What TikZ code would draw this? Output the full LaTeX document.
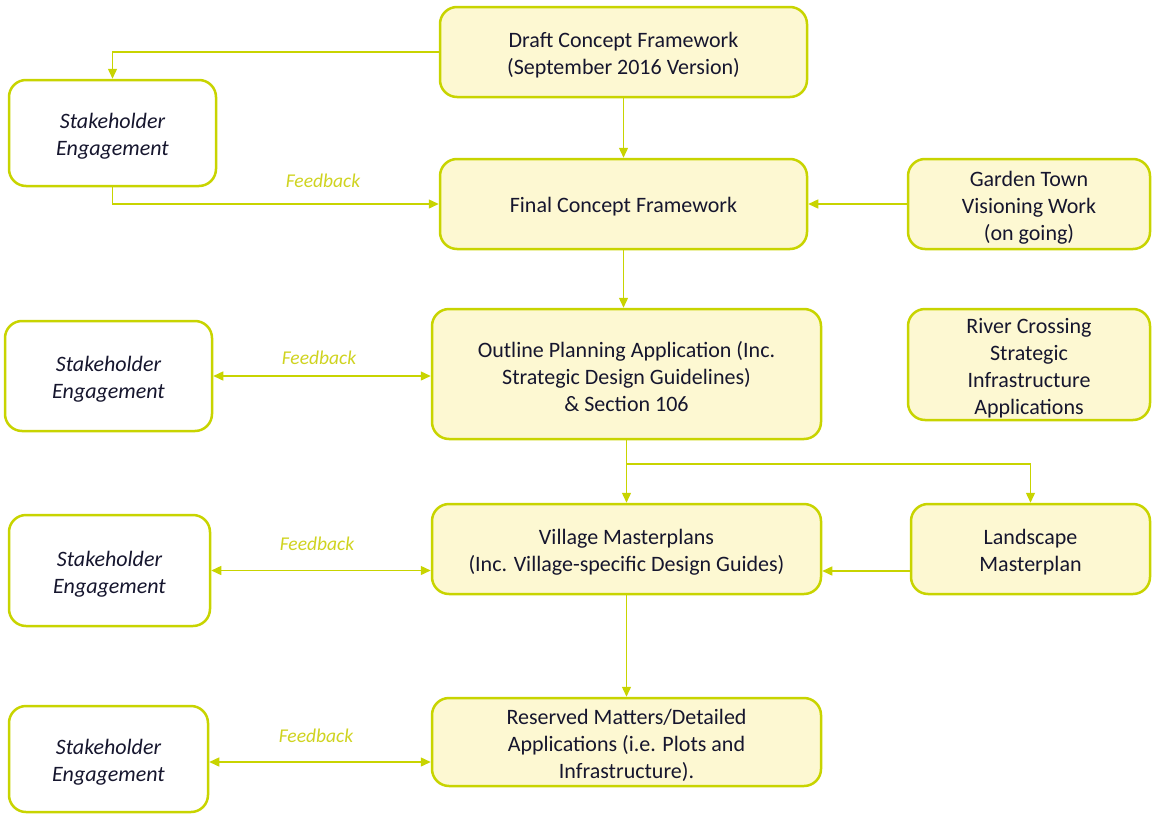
\documentclass[tikz,border=0pt]{standalone}
\usepackage{fontspec}
\setmainfont{Carlito}
\usetikzlibrary{arrows.meta}
\definecolor{bord}{HTML}{C8D400}
\definecolor{boxfill}{HTML}{FDF8D2}
\definecolor{txt}{HTML}{16162E}
\definecolor{fb}{HTML}{CFD320}
\newcommand\fstrut{\rule{0pt}{22pt}}
\begin{document}
\begin{tikzpicture}[x=1pt,y=-1pt,
  base/.style={draw=bord,line width=2.5pt,rounded corners=17pt,inner sep=0pt,align=center,text=txt,font=\fontsize{22}{27}\selectfont},
  ybox/.style={base,fill=boxfill},
  sbox/.style={base,fill=white,font=\fontsize{22}{27}\selectfont\itshape},
  conn/.style={draw=bord,line width=1.4pt,-{Triangle[length=10pt,width=9pt]}},
  both/.style={conn,{Triangle[length=10pt,width=9pt]}-{Triangle[length=10pt,width=9pt]}},
  fbl/.style={text=fb,font=\fontsize{19.5}{22}\selectfont\itshape}]
\useasboundingbox (0,0) rectangle (1152,814);
% yellow boxes
\node[ybox,minimum width=367pt,minimum height=90pt] (draft) at (623.5,52) {\fstrut Draft Concept Framework\\(September 2016 Version)};
\node[ybox,minimum width=367pt,minimum height=90pt] (final) at (623.5,204) {\rule{0pt}{20pt}Final Concept Framework};
\node[ybox,minimum width=242pt,minimum height=90pt] (garden) at (1029,204) {\fstrut Garden Town\\Visioning Work\\(on going)};
\node[ybox,minimum width=389pt,minimum height=130pt] (outline) at (626.5,374) {\fstrut Outline Planning Application (Inc.\\Strategic Design Guidelines)\\\& Section 106};
\node[ybox,minimum width=242pt,minimum height=111pt] (river) at (1029,364.5) {\fstrut River Crossing\\Strategic\\Infrastructure\\Applications};
\node[ybox,minimum width=389pt,minimum height=90pt] (village) at (626.5,549) {\fstrut Village Masterplans\\(Inc. Village-specific Design Guides)};
\node[ybox,minimum width=239pt,minimum height=90pt] (land) at (1030.5,549) {\fstrut Landscape\\Masterplan};
\node[ybox,minimum width=389pt,minimum height=88pt] (res) at (626.5,742) {\fstrut Reserved Matters/Detailed\\Applications (i.e. Plots and\\Infrastructure).};
% stakeholder boxes
\node[sbox,minimum width=207pt,minimum height=106pt] (s1) at (112.5,133) {\fstrut Stakeholder\\Engagement};
\node[sbox,minimum width=207pt,minimum height=110pt] (s2) at (108.5,376) {\fstrut Stakeholder\\Engagement};
\node[sbox,minimum width=201pt,minimum height=111pt] (s3) at (109.5,570.5) {\fstrut Stakeholder\\Engagement};
\node[sbox,minimum width=199pt,minimum height=106pt] (s4) at (108.5,759) {\fstrut Stakeholder\\Engagement};
% connectors
\draw[conn] (draft.west) -| (s1.north);
\draw[conn] (s1.south) |- (final.west);
\draw[conn] (draft.south) -- (final.north);
\draw[conn] (garden.west) -- (final.east);
\draw[conn] (final.south) -- (final.south |- outline.north);
\draw[both] (s2.east) -- (s2.east -| outline.west);
\coordinate (br) at (626.5,464);
\draw[conn] (outline.south) -- (village.north);
\draw[conn] (br) -| (land.north);
\draw[both] (s3.east) -- (s3.east -| village.west);
\draw[conn] (land.west |- 0,571) -- (village.east |- 0,571);
\draw[conn] (village.south) -- (res.north);
\draw[both] (s4.east |- 0,762) -- (res.west |- 0,762);
% labels
\node[fbl] (f1) at (323,181) {Feedback};
\node[fbl] (f2) at (319,358) {Feedback};
\node[fbl] (f3) at (317,544) {Feedback};
\node[fbl] (f4) at (316,736) {Feedback};
\end{tikzpicture}
\end{document}
